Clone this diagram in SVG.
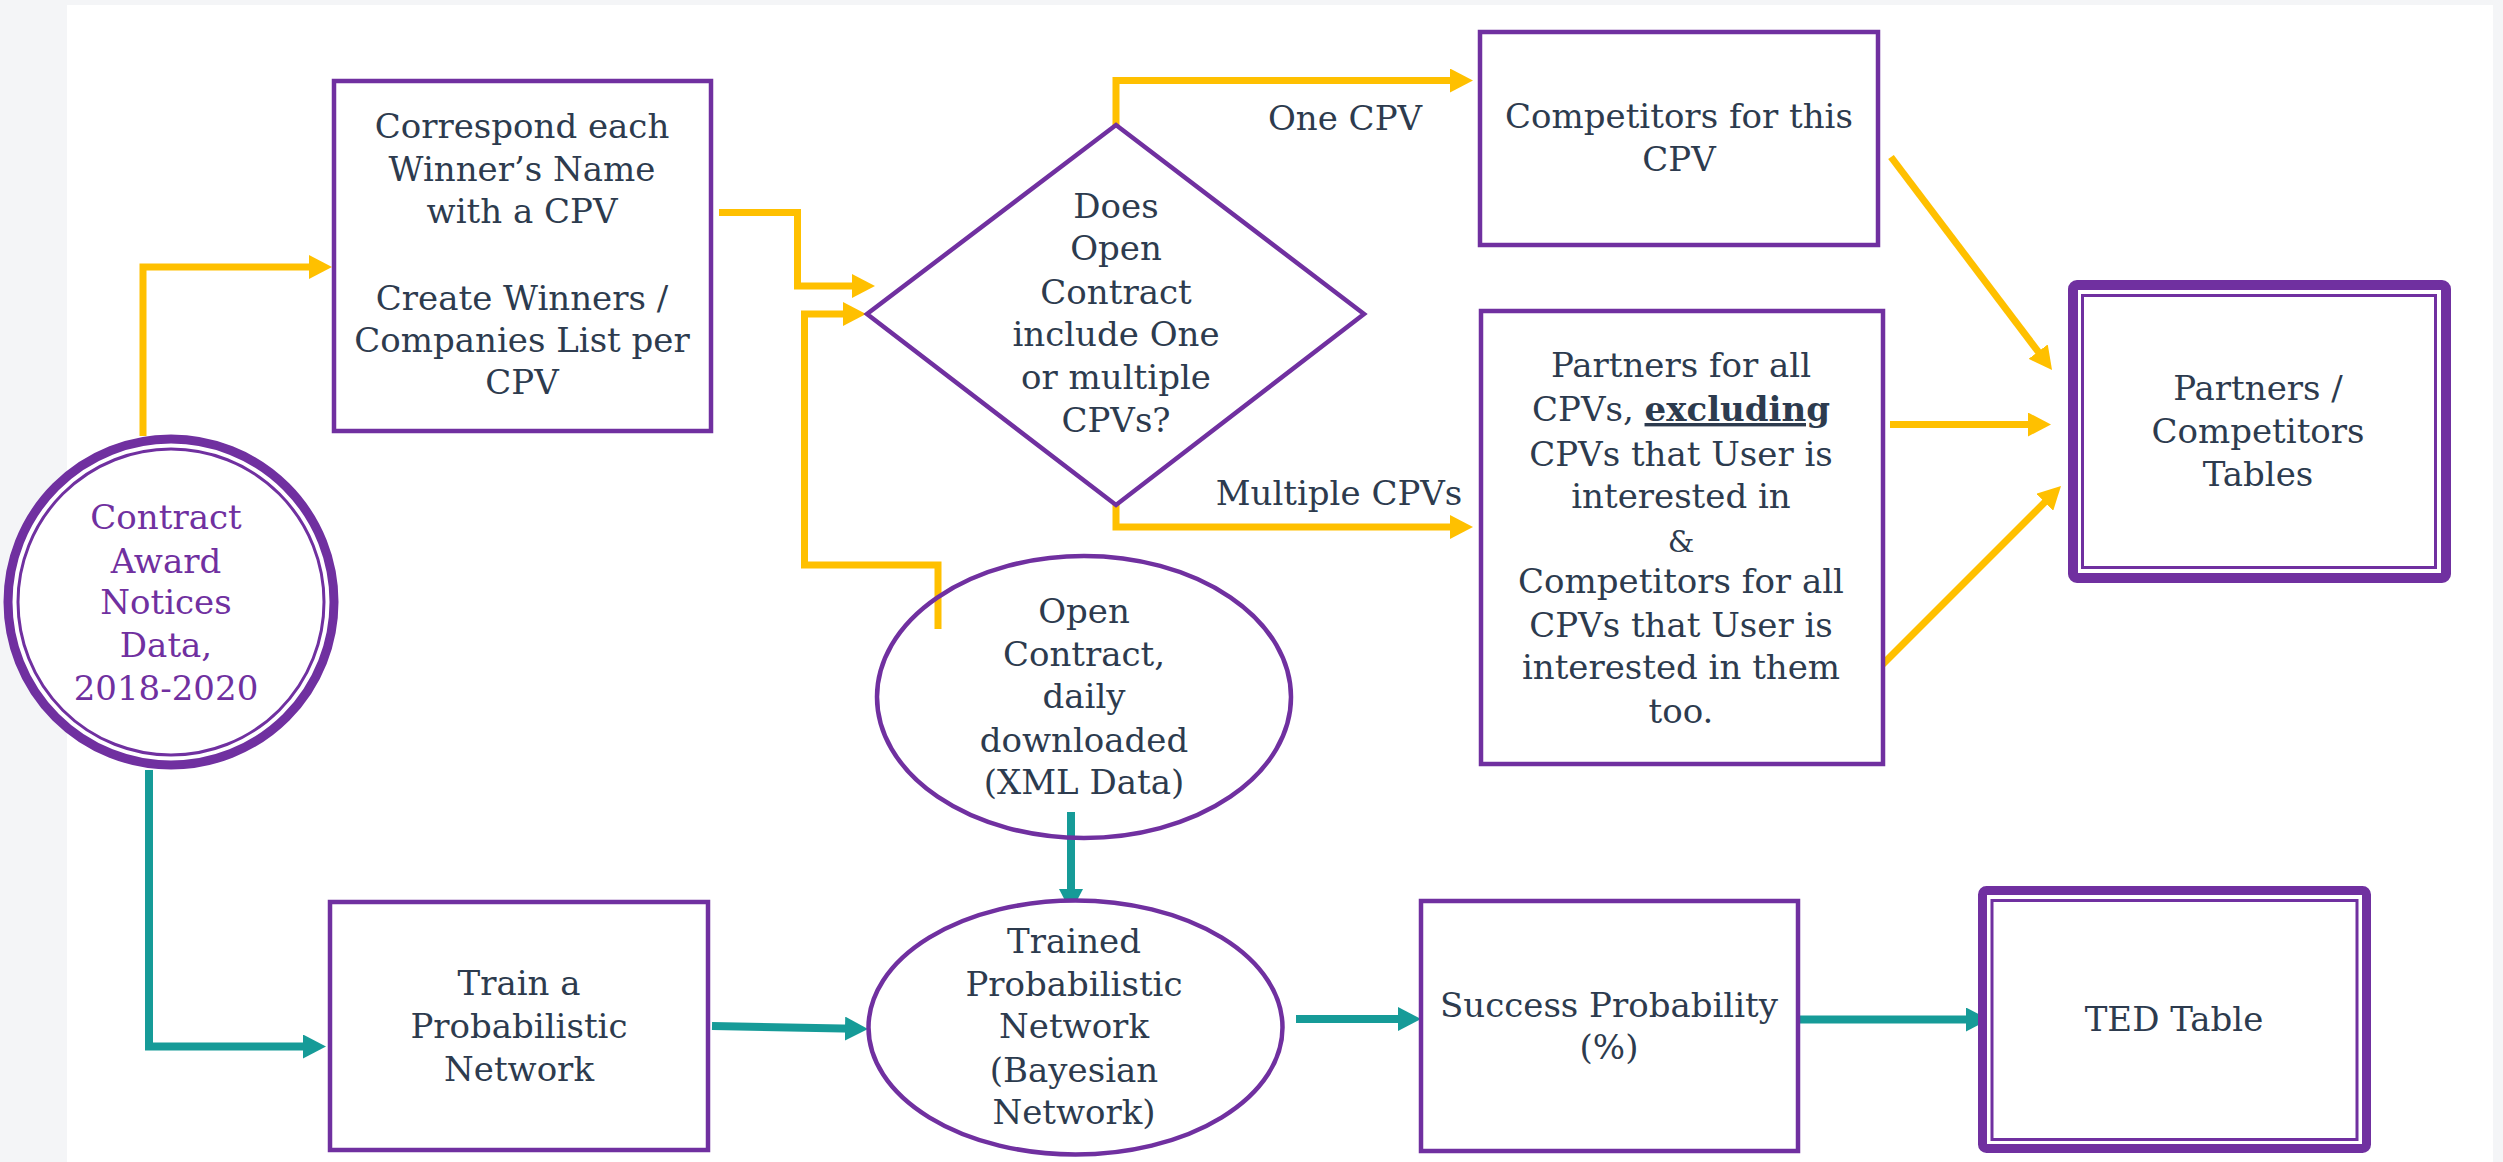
<svg xmlns="http://www.w3.org/2000/svg" width="2503" height="1162" viewBox="0 0 2503 1162">
<style>
.t{font-family:"DejaVu Serif","Liberation Serif",serif;font-size:34px;fill:#2d3b4e;text-anchor:middle}
.pt{fill:#7030a0}
.box{fill:#ffffff;stroke:#7030a0;stroke-width:4.5}
.thick{fill:#ffffff;stroke:#7030a0;stroke-width:9}
.thin{fill:none;stroke:#7030a0;stroke-width:3}
.y{fill:none;stroke:#ffc000;stroke-width:7;stroke-linejoin:miter}
.g{fill:none;stroke:#169b98;stroke-width:8;stroke-linejoin:miter}
</style>
<defs>
<marker id="ay" markerUnits="userSpaceOnUse" viewBox="0 0 23 24" refX="11" refY="12" markerWidth="23" markerHeight="24" orient="auto"><path d="M0,0 L23,12 L0,24 Z" fill="#ffc000"/></marker>
<marker id="ag" markerUnits="userSpaceOnUse" viewBox="0 0 23 24" refX="11" refY="12" markerWidth="23" markerHeight="24" orient="auto"><path d="M0,0 L23,12 L0,24 Z" fill="#169b98"/></marker>
</defs>
<rect x="0" y="0" width="2503" height="1162" fill="#f4f5f7"/>
<rect x="67" y="5" width="2426" height="1157" fill="#ffffff"/>

<g id="connectors">
<path class="y" d="M143,436 V267 H320" marker-end="url(#ay)"/>
<path class="y" d="M719,212.5 H797.5 V286 H863" marker-end="url(#ay)"/>
<path class="y" d="M938,629 V565 H804.5 V314 H854" marker-end="url(#ay)"/>
<path class="y" d="M1116,127 V80.5 H1461" marker-end="url(#ay)"/>
<path class="y" d="M1116,503 V527 H1461" marker-end="url(#ay)"/>
<path class="y" d="M1891,157 L2044.8,360.4" marker-end="url(#ay)"/>
<path class="y" d="M1890,424.5 H2039" marker-end="url(#ay)"/>
<path class="y" d="M1878,669 L2052.5,494.5" marker-end="url(#ay)"/>
<path class="g" d="M149,770 V1046.5 H314" marker-end="url(#ag)"/>
<path class="g" d="M712,1026 L856,1028.8" marker-end="url(#ag)"/>
<path class="g" d="M1071,812 V900" marker-end="url(#ag)"/>
<path class="g" d="M1296,1019 H1409" marker-end="url(#ag)"/>
<path class="g" d="M1799,1019.5 H1977" marker-end="url(#ag)"/>
</g>

<g id="node-contract-award">
<circle cx="171" cy="602" r="163" class="thick"/>
<circle cx="171" cy="602" r="153" class="thin"/>
<text class="t pt" x="166" y="529">Contract</text>
<text class="t pt" x="166" y="573">Award</text>
<text class="t pt" x="166" y="614">Notices</text>
<text class="t pt" x="166" y="657">Data,</text>
<text class="t pt" x="166" y="700">2018-2020</text>
</g>

<g id="node-correspond">
<rect x="334" y="81" width="377" height="350" class="box"/>
<text class="t" x="522" y="138">Correspond each</text>
<text class="t" x="522" y="181">Winner’s Name</text>
<text class="t" x="522" y="223">with a CPV</text>
<text class="t" x="522" y="310">Create Winners /</text>
<text class="t" x="522" y="352">Companies List per</text>
<text class="t" x="522" y="394">CPV</text>
</g>

<g id="node-decision">
<polygon points="1116,125 1364,314 1116,505 867,314" fill="#ffffff" stroke="#7030a0" stroke-width="4.5"/>
<text class="t" x="1116" y="218">Does</text>
<text class="t" x="1116" y="260">Open</text>
<text class="t" x="1116" y="304">Contract</text>
<text class="t" x="1116" y="346">include One</text>
<text class="t" x="1116" y="389">or multiple</text>
<text class="t" x="1116" y="432">CPVs?</text>
</g>

<g id="label-one-cpv"><text class="t" x="1345" y="130">One CPV</text></g>
<g id="label-multiple-cpvs"><text class="t" x="1339" y="505">Multiple CPVs</text></g>

<g id="node-competitors">
<rect x="1480" y="32" width="398" height="213" class="box"/>
<text class="t" x="1679" y="128">Competitors for this</text>
<text class="t" x="1679" y="171">CPV</text>
</g>

<g id="node-partners">
<rect x="1481" y="311" width="402" height="453" class="box"/>
<text class="t" x="1681" y="377">Partners for all</text>
<text class="t" x="1681" y="421">CPVs, <tspan font-weight="bold" text-decoration="underline">excluding</tspan></text>
<text class="t" x="1681" y="466">CPVs that User is</text>
<text class="t" x="1681" y="508">interested in</text>
<text class="t" x="1681" y="552" style="font-size:30px">&amp;</text>
<text class="t" x="1681" y="593">Competitors for all</text>
<text class="t" x="1681" y="637">CPVs that User is</text>
<text class="t" x="1681" y="679">interested in them</text>
<text class="t" x="1681" y="723">too.</text>
</g>

<g id="node-tables">
<rect x="2073" y="285" width="373" height="293" rx="4" class="thick" style="stroke-width:10"/>
<rect x="2082.5" y="295.5" width="353" height="272" class="thin"/>
<text class="t" x="2258" y="400">Partners /</text>
<text class="t" x="2258" y="443">Competitors</text>
<text class="t" x="2258" y="486">Tables</text>
</g>

<g id="node-open-contract">
<ellipse cx="1084" cy="697" rx="207" ry="141" fill="none" stroke="#7030a0" stroke-width="4.5"/>
<text class="t" x="1084" y="623">Open</text>
<text class="t" x="1084" y="666">Contract,</text>
<text class="t" x="1084" y="708">daily</text>
<text class="t" x="1084" y="752">downloaded</text>
<text class="t" x="1084" y="794">(XML Data)</text>
</g>

<g id="node-train">
<rect x="330" y="902" width="378" height="248" class="box"/>
<text class="t" x="519" y="995">Train a</text>
<text class="t" x="519" y="1038">Probabilistic</text>
<text class="t" x="519" y="1081">Network</text>
</g>

<g id="node-trained">
<ellipse cx="1075.5" cy="1027.5" rx="207" ry="127" class="box"/>
<text class="t" x="1074" y="953">Trained</text>
<text class="t" x="1074" y="996">Probabilistic</text>
<text class="t" x="1074" y="1038">Network</text>
<text class="t" x="1074" y="1082">(Bayesian</text>
<text class="t" x="1074" y="1124">Network)</text>
</g>

<g id="node-success">
<rect x="1421" y="901" width="377" height="250" class="box"/>
<text class="t" x="1609" y="1017">Success Probability</text>
<text class="t" x="1609" y="1059">(%)</text>
</g>

<g id="node-ted">
<rect x="1982.5" y="890.5" width="384" height="258" rx="4" class="thick"/>
<rect x="1992" y="900.5" width="365" height="239" class="thin"/>
<text class="t" x="2174" y="1031">TED Table</text>
</g>
</svg>
